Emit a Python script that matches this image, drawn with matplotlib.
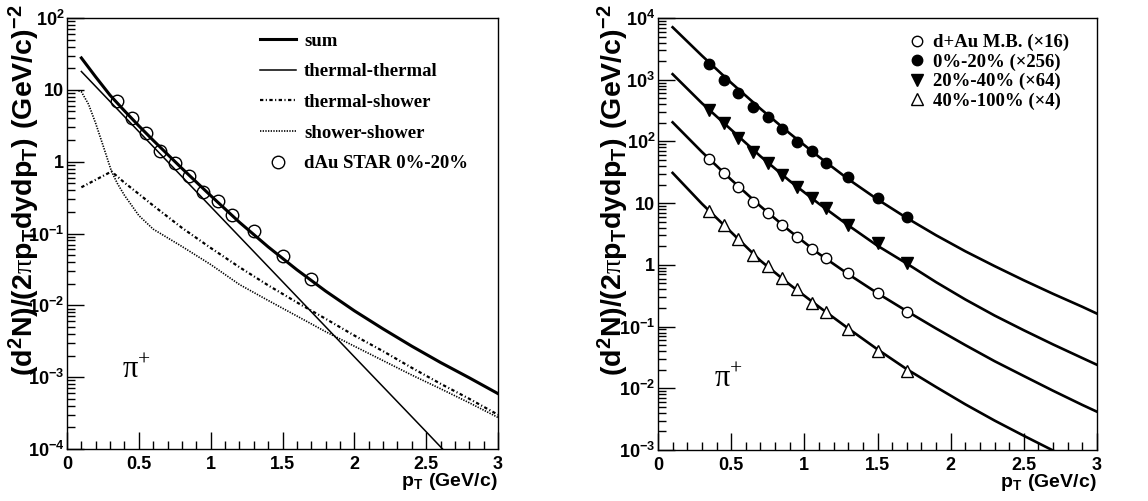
import matplotlib
matplotlib.use("Agg")
import matplotlib.pyplot as plt
from matplotlib.ticker import FixedLocator, LogLocator, NullFormatter

plt.rcParams['mathtext.fontset'] = 'custom'
plt.rcParams['mathtext.sf'] = 'Liberation Serif'
plt.rcParams['mathtext.rm'] = 'Liberation Sans:bold'

SANS = 'Liberation Sans'
SERIF = 'Liberation Serif'

# ---- left panel: pi+ in d+Au 0-20%, components of the recombination model
pt_data = [0.35, 0.45, 0.55, 0.65, 0.75, 0.85, 0.95, 1.05, 1.15, 1.3, 1.5, 1.7]
star_0_20 = [7.0, 4.1, 2.5, 1.4, 0.97, 0.64, 0.38, 0.28, 0.18, 0.11, 0.048, 0.023]

pt_sum = [0.1, 0.2, 0.3, 0.4, 0.5, 0.6, 0.8, 1.0, 1.2, 1.4, 1.6, 1.8, 2.0, 2.2, 2.4, 2.6, 2.8, 3.0]
sum_curve = [27.8, 15.1, 8.4, 5.1, 3.15, 1.98, 0.806, 0.337, 0.1435, 0.0652, 0.0313, 0.0158,
             0.0084, 0.0047, 0.0027, 0.0016, 0.00098, 0.00059]

pt_tt = [0.1, 0.5, 1.0, 1.5, 2.0, 2.5, 2.7]
thermal_thermal = [18.0, 2.62, 0.237, 0.0214, 0.00192, 1.74e-4, 6.6e-5]

pt_ts = [0.1, 0.31, 0.4, 0.5, 0.6, 0.8, 1.0, 1.2, 1.4, 1.6, 1.8, 2.0, 2.2, 2.4, 2.6, 2.8, 3.0]
thermal_shower = [0.44, 0.73, 0.51, 0.355, 0.245, 0.12, 0.063, 0.034, 0.019, 0.011, 0.0065,
                  0.0038, 0.0023, 0.00135, 0.00081, 0.0005, 0.0003]

pt_ss = [0.08, 0.1, 0.15, 0.2, 0.25, 0.31, 0.35, 0.4, 0.5, 0.6, 0.8, 1.0, 1.2, 1.4, 1.6, 1.8,
         2.0, 2.2, 2.4, 2.6, 2.8, 3.0]
shower_shower = [9.7, 9.4, 6.3, 3.4, 1.7, 0.73, 0.50, 0.34, 0.178, 0.115, 0.066, 0.037, 0.0195,
                 0.0117, 0.0071, 0.0043, 0.0027, 0.0017, 0.00107, 0.00069, 0.00044, 0.000275]

# ---- right panel: scaled spectra for centrality classes
pt_fit = [0.1, 0.3, 0.5, 0.7, 0.9, 1.1, 1.3, 1.5, 1.7, 1.9, 2.1, 2.3, 2.5, 2.7, 2.9, 3.0]
fit_0_20 = [7080, 2455, 891, 339, 135, 56.2, 24.5, 11.5, 5.75, 3.02, 1.66, 0.955, 0.562, 0.339, 0.209, 0.162]
fit_20_40 = [1230, 417, 155, 57.5, 22.9, 9.77, 4.37, 2.04, 1.05, 0.525, 0.275, 0.151, 0.0871, 0.0513, 0.0309, 0.024]
fit_mb = [204, 67.6, 24.0, 8.91, 3.55, 1.51, 0.708, 0.347, 0.178, 0.0933, 0.0501, 0.0275, 0.0158, 0.00912, 0.00537, 0.00417]
fit_40_100 = [30.9, 9.77, 3.39, 1.17, 0.479, 0.209, 0.0933, 0.0427, 0.0204, 0.0105, 0.0055, 0.0030, 0.0017, 0.00098, 0.00056]

pts_mb = [52, 31, 18, 10.5, 6.9, 4.4, 2.8, 1.8, 1.3, 0.74, 0.35, 0.17]
pts_0_20 = [1800, 1000, 610, 355, 245, 160, 97, 69, 44, 27, 12, 6.0]
pts_20_40 = [325, 200, 115, 68, 45, 29, 18, 12, 8.3, 4.4, 2.3, 1.07]
pts_40_100 = [7.4, 4.4, 2.6, 1.45, 0.96, 0.61, 0.41, 0.24, 0.17, 0.093, 0.040, 0.019]

x_ticks = [0, 0.5, 1, 1.5, 2, 2.5, 3]
x_ticklabels = ['0', '0.5', '1', '1.5', '2', '2.5', '3']
ytitle = r'$\mathregular{(d^{2}N)/(2}\mathsf{\pi}\mathregular{p_{T}dydp_{T})\ (GeV/c)^{-2}}$'


def decade_label(e):
    if e == 0:
        return '1'
    if e == 1:
        return '10'
    return r'$\mathregular{10^{%d}}$' % e


def style_axis(ax, emin, emax):
    ax.set_xlim(0, 3)
    ax.set_yscale('log')
    ax.set_ylim(10.0 ** emin, 10.0 ** emax)
    ax.set_xticks(x_ticks)
    ax.set_xticklabels(x_ticklabels)
    ax.xaxis.set_minor_locator(FixedLocator([i / 10 for i in range(31)]))
    exps = list(range(emin, emax + 1))
    ax.set_yticks([10.0 ** e for e in exps])
    ax.set_yticklabels([decade_label(e) for e in exps])
    ax.yaxis.set_minor_locator(LogLocator(base=10, subs=range(2, 10), numticks=20))
    ax.yaxis.set_minor_formatter(NullFormatter())
    ax.tick_params(which='both', direction='in', top=False, right=False, width=1, colors='black')
    ax.tick_params(which='major', length=12)
    ax.tick_params(which='minor', length=6)
    ax.tick_params(axis='x', pad=5)
    ax.tick_params(axis='y', pad=2)
    for lbl in ax.get_xticklabels() + ax.get_yticklabels():
        lbl.set_family(SANS)
        lbl.set_weight('bold')
        lbl.set_fontsize(13)
    for sp in ax.spines.values():
        sp.set_linewidth(1.0)
    ax.text(1.0, -0.052, r'$\mathregular{p_{T}\ (GeV/c)}$', transform=ax.transAxes,
            ha='right', va='top', family=SANS, weight='bold', fontsize=14)


fig = plt.figure(figsize=(11.48, 5.01), dpi=100)
ax1 = fig.add_axes([67 / 1148, 52 / 501, 431 / 1148, 431 / 501])
ax2 = fig.add_axes([658 / 1148, 51 / 501, 439 / 1148, 432 / 501])

# left panel
h_sum, = ax1.plot(pt_sum, sum_curve, color='black', lw=2.2)
h_tt, = ax1.plot(pt_tt, thermal_thermal, color='black', lw=1.1)
h_ts, = ax1.plot(pt_ts, thermal_shower, color='black', lw=1.6, linestyle=(0, (1.5, 1.1, 0.5, 1.1)))
h_ss, = ax1.plot(pt_ss, shower_shower, color='black', lw=1.2, linestyle=(0, (0.8, 0.8)))
h_pts, = ax1.plot(pt_data, star_0_20, linestyle='none', marker='o', ms=9, mfc='none',
                  mec='black', mew=1.0)
style_axis(ax1, -4, 2)
ax1.text(0.16, 0.185, r'$\mathsf{\pi}^{\mathsf{+}}$', transform=ax1.transAxes,
         ha='center', va='center', fontsize=22)
ax1.legend([h_sum, h_tt, h_ts, h_ss, h_pts],
           ['sum', 'thermal-thermal', 'thermal-shower', 'shower-shower', 'dAu STAR 0%-20%'],
           loc='upper left', bbox_to_anchor=(0.448, 0.966), frameon=False,
           prop={'family': SERIF, 'weight': 'bold', 'size': 13.5},
           handlelength=1.9, handletextpad=0.45, labelspacing=0.72,
           borderpad=0, borderaxespad=0, numpoints=1)
fig.text(24 / 1148, 1 - 5 / 501, ytitle, rotation=90, ha='center', va='top',
         family=SANS, weight='bold', fontsize=20.5)

# right panel
for vals in [fit_0_20, fit_20_40, fit_mb]:
    ax2.plot(pt_fit, vals, color='black', lw=1.9)
ax2.plot(pt_fit[:len(fit_40_100)], fit_40_100, color='black', lw=1.9)
h_mb, = ax2.plot(pt_data, pts_mb, linestyle='none', marker='o', ms=7.5, mfc='white',
                 mec='black', mew=1.0)
h_c1, = ax2.plot(pt_data, pts_0_20, linestyle='none', marker='o', ms=7.5, color='black')
h_c2, = ax2.plot(pt_data, pts_20_40, linestyle='none', marker='v', ms=8, color='black')
h_c3, = ax2.plot(pt_data, pts_40_100, linestyle='none', marker='^', ms=8, mfc='white',
                 mec='black', mew=1.0)
style_axis(ax2, -3, 4)
ax2.text(0.16, 0.165, r'$\mathsf{\pi}^{\mathsf{+}}$', transform=ax2.transAxes,
         ha='center', va='center', fontsize=22)
ax2.legend([h_mb, h_c1, h_c2, h_c3],
           ['d+Au M.B. (\u00d716)', '0%-20% (\u00d7256)', '20%-40% (\u00d764)', '40%-100% (\u00d74)'],
           loc='upper left', bbox_to_anchor=(0.574, 0.963), frameon=False,
           prop={'family': SERIF, 'weight': 'bold', 'size': 13.5},
           handlelength=0.8, handletextpad=0.45, labelspacing=0.12,
           borderpad=0, borderaxespad=0, numpoints=1)
fig.text(613 / 1148, 1 - 5 / 501, ytitle, rotation=90, ha='center', va='top',
         family=SANS, weight='bold', fontsize=20.5)

fig.savefig('out.png', dpi=100)
